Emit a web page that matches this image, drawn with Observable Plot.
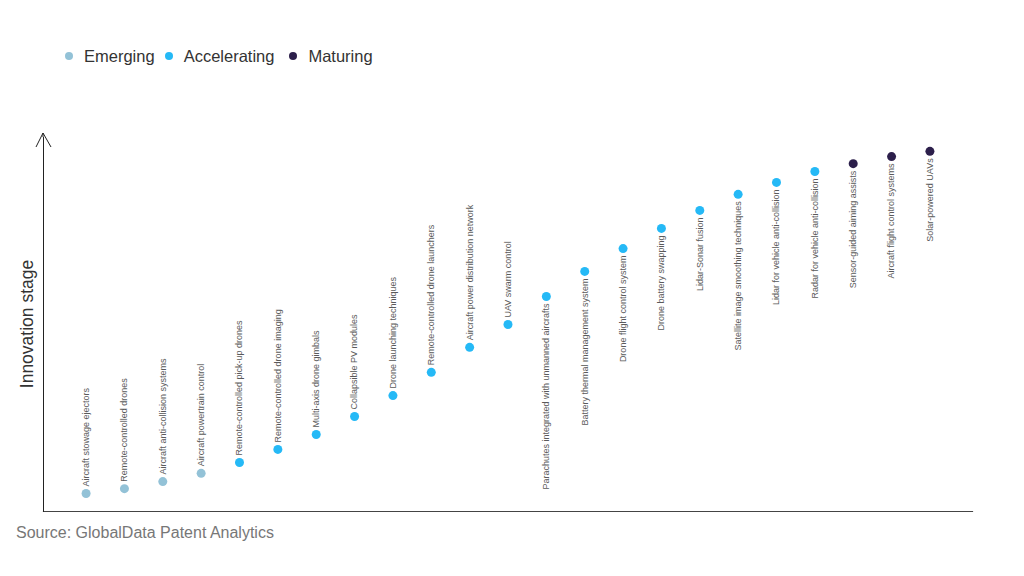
<!DOCTYPE html>
<html>
<head>
<meta charset="utf-8">
<script src="https://cdn.jsdelivr.net/npm/d3@7"></script>
<script src="https://cdn.jsdelivr.net/npm/@observablehq/plot@0.6"></script>
<style>
  html, body { margin: 0; padding: 0; background: #fff; width: 1024px; height: 576px; overflow: hidden; }
  #legend { height: 100px; box-sizing: border-box; padding: 46px 0 0 65px; display: flex; align-items: flex-start; font-family: "Liberation Sans", Arial, sans-serif; font-size: 16.5px; color: #333; }
  #legend .item { display: flex; align-items: center; height: 20px; }
  #legend .dot { width: 8px; height: 8px; border-radius: 50%; margin-right: 11px; }
  #chart svg { display: block; }
  #caption { font-family: "Liberation Sans", Arial, sans-serif; font-size: 16px; color: #777; padding-left: 16px; margin-top: 4px; }
</style>
</head>
<body>
<div id="legend"></div>
<div id="chart"></div>
<div id="caption">Source: GlobalData Patent Analytics</div>
<script>
const technologies = [
  "Aircraft stowage ejectors",
  "Remote-controlled drones",
  "Aircraft anti-collision systems",
  "Aircraft powertrain control",
  "Remote-controlled pick-up drones",
  "Remote-controlled drone imaging",
  "Multi-axis drone gimbals",
  "Collapsible PV modules",
  "Drone launching techniques",
  "Remote-controlled drone launchers",
  "Aircraft power distribution network",
  "UAV swarm control",
  "Parachutes integrated with unmanned aircrafts",
  "Battery thermal management system",
  "Drone flight control system",
  "Drone battery swapping",
  "Lidar-Sonar fusion",
  "Satellite image smoothing techniques",
  "Lidar for vehicle anti-collision",
  "Radar for vehicle anti-collision",
  "Sensor-guided aiming assists",
  "Aircraft flight control systems",
  "Solar-powered UAVs"
];
const stageValues = [4.8, 6.1, 8.0, 10.2, 13.1, 16.6, 20.6, 25.4, 31.0, 37.2, 43.9, 50.0, 57.5, 64.2, 70.3, 75.7, 80.5, 84.8, 88.0, 90.9, 93.0, 94.9, 96.3];
const stages = ["Emerging","Emerging","Emerging","Emerging",
  "Accelerating","Accelerating","Accelerating","Accelerating","Accelerating","Accelerating","Accelerating","Accelerating",
  "Accelerating","Accelerating","Accelerating","Accelerating","Accelerating","Accelerating","Accelerating","Accelerating",
  "Maturing","Maturing","Maturing"];
const labelBelow = [false,false,false,false,false,false,false,false,false,false,false,false,
  true,true,true,true,true,true,true,true,true,true,true];
const stageNames = ["Emerging", "Accelerating", "Maturing"];
const stageColors = ["#93c2d7", "#25b9f6", "#2c1f4b"];
const legendGaps = [10, 15, 0];

const data = technologies.map((name, i) => ({name, value: stageValues[i], stage: stages[i], below: labelBelow[i]}));

// Legend
const legendEl = document.getElementById("legend");
stageNames.forEach((s, i) => {
  const item = document.createElement("div");
  item.className = "item";
  item.style.marginRight = legendGaps[i] + "px";
  item.innerHTML = `<span class="dot" style="background:${stageColors[i]}"></span><span>${s}</span>`;
  legendEl.appendChild(item);
});

const chart = Plot.plot({
  width: 1024,
  height: 420,
  marginLeft: 43,
  marginRight: 52,
  marginTop: 37,
  marginBottom: 9,
  style: {background: "#fff", overflow: "visible"},
  x: {type: "point", domain: technologies, padding: 1.11, round: false, axis: null},
  y: {domain: [0, 100], axis: null},
  color: {domain: stageNames, range: stageColors},
  marks: [
    Plot.frame({anchor: "bottom", stroke: "#444", strokeWidth: 1.2}),
    Plot.frame({anchor: "left", stroke: "#222", strokeWidth: 1}),
    Plot.dot(data, {x: "name", y: "value", fill: "stage", r: 4.5}),
    Plot.text(data.filter(d => !d.below), {x: "name", y: "value", text: "name", rotate: -90, textAnchor: "start", lineAnchor: "middle", dy: -7, fontSize: 9, fill: "#5a5a5a", fontFamily: "Liberation Sans, Arial, sans-serif"}),
    Plot.text(data.filter(d => d.below), {x: "name", y: "value", text: "name", rotate: -90, textAnchor: "end", lineAnchor: "middle", dy: 7, fontSize: 9, fill: "#5a5a5a", fontFamily: "Liberation Sans, Arial, sans-serif"})
  ]
});
document.getElementById("chart").appendChild(chart);

// Arrow head on y axis and axis title
const svgSel = d3.select(chart);
const yScale = chart.scale("y");
const yTop = yScale.range[1];
const xLeft = 43;
svgSel.append("path")
  .attr("d", `M${xLeft},${yTop} L${xLeft},${yTop - 4} M${xLeft - 7},${yTop + 10} L${xLeft},${yTop - 4} L${xLeft + 8},${yTop + 10}`)
  .attr("fill", "none").attr("stroke", "#222").attr("stroke-width", 1);
const midY = (yScale.range[0] + yScale.range[1]) / 2;
svgSel.append("text")
  .attr("transform", `translate(27,${midY}) rotate(-90)`)
  .attr("text-anchor", "middle")
  .attr("dominant-baseline", "central")
  .attr("font-family", "Liberation Sans, Arial, sans-serif")
  .attr("font-size", 17.5)
  .attr("fill", "#333")
  .text("Innovation stage");
</script>
</body>
</html>
